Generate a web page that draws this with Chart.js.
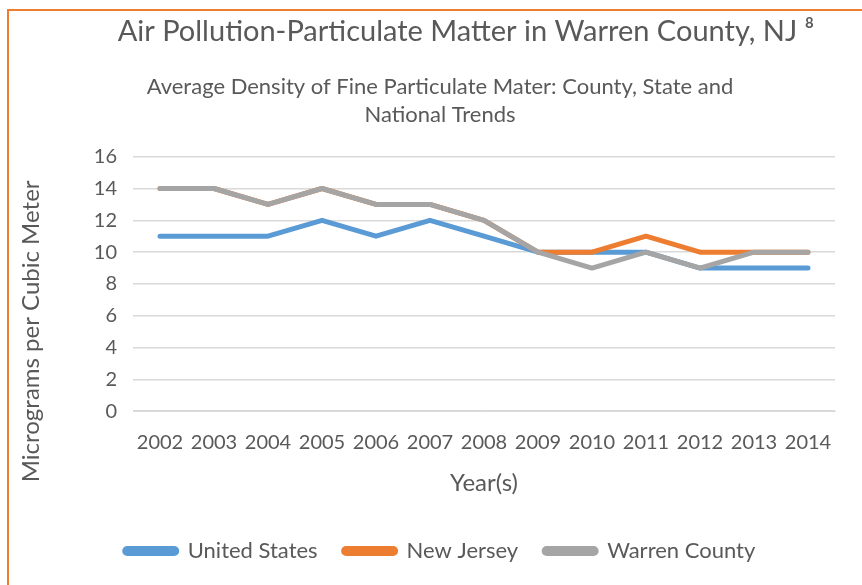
<html>
  <head>
    <style>
      body { margin: 0; background: #fff; }
      #wrap { position: relative; width: 862px; height: 585px; overflow: hidden; }
      #frame { position: absolute; left: 7px; top: 9px; width: 900px; height: 620px; border: 2px solid #ED7D31; box-sizing: border-box; }
      canvas { position: absolute; left: 0; top: 0; }
    </style>
  </head>

  <body>
    <div id="wrap">
      <div id="frame"></div>
      <canvas id="myChart" width="862" height="585"></canvas>
    </div>

    <script src="https://cdn.jsdelivr.net/npm/chart.js@4/dist/chart.umd.min.js"></script>
    <script>
      const years = ['2002', '2003', '2004', '2005', '2006', '2007', '2008', '2009', '2010', '2011', '2012', '2013', '2014']
      const unitedStates = [11, 11, 11, 12, 11, 12, 11, 10, 10, 10, 9, 9, 9]
      const newJersey = [14, 14, 13, 14, 13, 13, 12, 10, 10, 11, 10, 10, 10]
      const warrenCounty = [14, 14, 13, 14, 13, 13, 12, 10, 9, 10, 9, 10, 10]

      const font = 'Lato, "Open Sans", sans-serif'
      const grey = '#595959'
      const yTitle = 'Micrograms per Cubic Meter'

      function line(label, data, color, order) {
        return {
          label: label,
          data: data,
          borderColor: color,
          backgroundColor: color,
          borderWidth: 5,
          borderCapStyle: 'round',
          borderJoinStyle: 'round',
          pointRadius: 0,
          tension: 0,
          order: order,
          yAxisID: 'y',
        }
      }

      Chart.defaults.font.family = font
      Chart.defaults.color = grey

      // y axis title, centred on plot + x labels like the original
      const yTitlePlugin = {
        id: 'yTitle',
        afterDraw(chart) {
          const ctx = chart.ctx
          const mid = (chart.chartArea.top + chart.scales.x.bottom) / 2 - 4
          ctx.save()
          ctx.translate(31, mid)
          ctx.rotate(-Math.PI / 2)
          ctx.font = '24px ' + font
          ctx.fillStyle = grey
          ctx.textAlign = 'center'
          ctx.textBaseline = 'middle'
          ctx.fillText(yTitle, 0, 0)
          ctx.restore()
        },
      }

      new Chart(document.getElementById('myChart'), {
        type: 'line',
        data: {
          labels: years,
          datasets: [
            line('United States', unitedStates, '#5B9BD5', 3),
            line('New Jersey', newJersey, '#ED7D31', 2),
            line('Warren County', warrenCounty, '#A5A5A5', 1),
          ],
        },
        plugins: [yTitlePlugin],
        options: {
          responsive: false,
          animation: false,
          layout: { padding: { left: 18, right: 0, top: 14, bottom: 13 } },
          plugins: {
            title: {
              display: true,
              text: '       Air Pollution-Particulate Matter in Warren County, NJ \u2078',
              font: { size: 29, weight: 'normal', lineHeight: 1.2 },
              color: grey,
              padding: { top: 0, bottom: 24 },
            },
            subtitle: {
              display: true,
              text: ['Average Density of Fine Particulate Mater: County, State and', 'National Trends'],
              font: { size: 22, weight: 'normal', lineHeight: 1.27 },
              color: grey,
              padding: { top: 0, bottom: 28 },
            },
            legend: {
              position: 'bottom',
              labels: {
                boxWidth: 52,
                boxHeight: 5,
                useBorderRadius: true,
                borderRadius: 2.5,
                font: { size: 22 },
                color: grey,
                padding: 26,
                sort: (a, b) => a.datasetIndex - b.datasetIndex,
              },
            },
            tooltip: { enabled: false },
          },
          scales: {
            x: {
              offset: true,
              grid: { display: false },
              border: { display: true, color: '#D9D9D9', width: 1 },
              ticks: { font: { size: 20 }, color: grey, maxRotation: 0, padding: 11 },
              title: { display: true, text: 'Year(s)', font: { size: 24 }, color: grey, padding: { top: 4, bottom: 16 } },
            },
            y: {
              min: 0,
              max: 16,
              ticks: { stepSize: 2, font: { size: 20 }, color: grey, padding: 16 },
              grid: { color: '#D9D9D9', lineWidth: 1.5, drawTicks: false },
              border: { display: false },
              afterFit: function (scale) { scale.width = 115 },
            },
            y2: {
              position: 'right',
              min: 0,
              max: 1,
              grid: { display: false },
              border: { display: false },
              ticks: { display: false },
              afterFit: function (scale) { scale.width = 27 },
            },
          },
        },
      })
    </script>
  </body>
</html>
